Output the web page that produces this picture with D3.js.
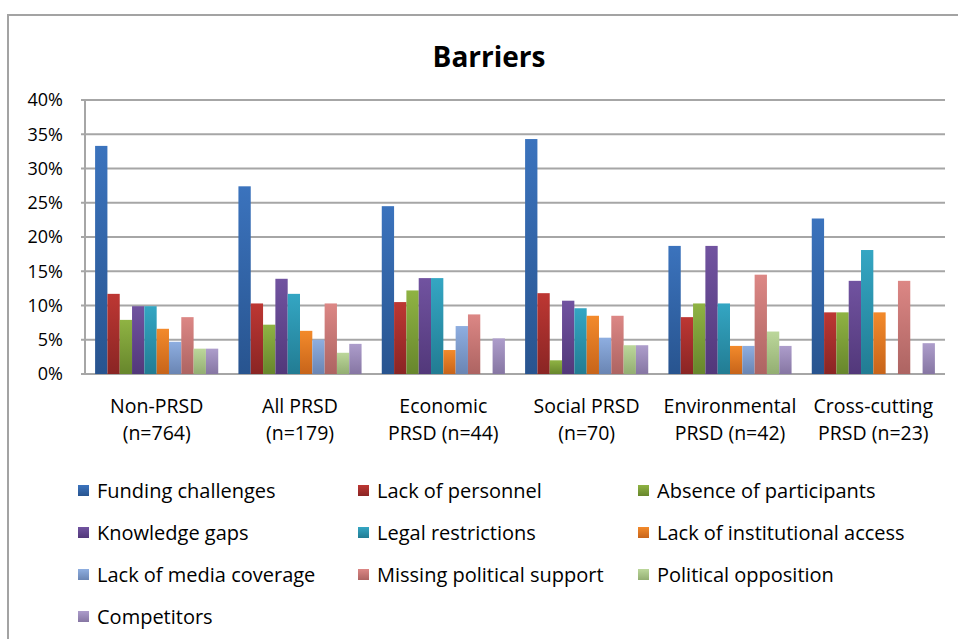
<!DOCTYPE html>
<html>
<head>
<meta charset="utf-8">
<script src="https://cdn.jsdelivr.net/npm/d3@7"></script>
<style>
  body { margin: 0; background: #fff; }
  svg { display: block; }
</style>
</head>
<body>
<div id="canvas"></div>
<script>
// categories (two label lines each)
let categories = ["Non-PRSD", "All PRSD", "Economic PRSD", "Social PRSD", "Environmental PRSD", "Cross-cutting PRSD"]
let catLines = [
    ["Non-PRSD", "(n=764)"],
    ["All PRSD", "(n=179)"],
    ["Economic", "PRSD (n=44)"],
    ["Social PRSD", "(n=70)"],
    ["Environmental", "PRSD (n=42)"],
    ["Cross-cutting", "PRSD (n=23)"]
]

let series = ["Funding challenges", "Lack of personnel", "Absence of participants",
    "Knowledge gaps", "Legal restrictions", "Lack of institutional access",
    "Lack of media coverage", "Missing political support", "Political opposition",
    "Competitors"]

// values in %, one array per series, in category order
let funding       = [33.3, 27.4, 24.5, 34.3, 18.7, 22.7]
let personnel     = [11.7, 10.3, 10.5, 11.8, 8.3, 9.0]
let absence       = [7.9, 7.2, 12.2, 2.0, 10.3, 9.0]
let knowledge     = [9.9, 13.9, 14.0, 10.7, 18.7, 13.6]
let legal         = [9.9, 11.7, 14.0, 9.6, 10.3, 18.1]
let institutional = [6.6, 6.3, 3.5, 8.5, 4.1, 9.0]
let media         = [4.7, 5.0, 7.0, 5.3, 4.1, 0]
let missingPol    = [8.3, 10.3, 8.7, 8.5, 14.5, 13.6]
let opposition    = [3.7, 3.1, 0, 4.2, 6.2, 0]
let competitors   = [3.7, 4.4, 5.2, 4.2, 4.1, 4.5]

let values = [funding, personnel, absence, knowledge, legal, institutional,
    media, missingPol, opposition, competitors]

let yTicks = [0, 5, 10, 15, 20, 25, 30, 35, 40]

// top / bottom colours of the bar gradients
let colorsTop = ["#3b73bd", "#bd3733", "#8fb343", "#7153a0", "#34a6c3", "#f38a2b",
    "#8eaee0", "#dc8785", "#bcd79b", "#ad9dcb"]
let colorsBottom = ["#28548f", "#8a2524", "#67862c", "#52387a", "#227c93", "#c7641a",
    "#6a85b3", "#ad6462", "#93ae72", "#8676a3"]

let width = 958
let height = 639

let svg = d3.select("#canvas").append("svg")
    .attr("width", width)
    .attr("height", height)
    .attr("class", "canvas")

let defs = svg.append("defs")
series.forEach((s, i) => {
    let g = defs.append("linearGradient")
        .attr("id", "grad" + i)
        .attr("x1", 0).attr("y1", 0)
        .attr("x2", 0).attr("y2", 1)
    g.append("stop").attr("offset", "0%").attr("stop-color", colorsTop[i])
    g.append("stop").attr("offset", "100%").attr("stop-color", colorsBottom[i])
})

// outer frame
svg.append("rect")
    .attr("x", 8).attr("y", 15)
    .attr("width", 980).attr("height", 660)
    .attr("fill", "none")
    .attr("stroke", "#a3a3a3")
    .attr("stroke-width", 2)

// title
svg.append("text")
    .attr("x", 489).attr("y", 67)
    .attr("text-anchor", "middle")
    .attr("font-family", "'Open Sans', sans-serif")
    .attr("font-weight", "bold")
    .attr("font-size", 28)
    .attr("fill", "#000")
    .text("Barriers")

// scales
let plot = {left: 85, right: 945, top: 100, bottom: 374}

let y = d3.scaleLinear()
    .domain([0, 40])
    .range([plot.bottom, plot.top])

let x0 = d3.scaleBand()
    .domain(categories)
    .range([plot.left, plot.right])
    .padding(0)

let x1 = d3.scaleBand()
    .domain(series)
    .range([0, x0.bandwidth()])
    .paddingInner(0)
    .paddingOuter(0.82)

// gridlines
svg.append("g")
    .attr("class", "grid")
    .selectAll("line")
    .data(yTicks)
    .enter().append("line")
        .attr("x1", plot.left - 4)
        .attr("x2", plot.right)
        .attr("y1", d => y(d))
        .attr("y2", d => y(d))
        .attr("stroke", "#a6a6a6")
        .attr("stroke-width", 2)

// left axis line
svg.append("line")
    .attr("x1", plot.left).attr("x2", plot.left)
    .attr("y1", plot.top).attr("y2", plot.bottom)
    .attr("stroke", "#a6a6a6")
    .attr("stroke-width", 2)

// y labels
svg.append("g")
    .selectAll("text")
    .data(yTicks)
    .enter().append("text")
        .attr("x", 63)
        .attr("y", d => y(d))
        .attr("dy", "0.36em")
        .attr("text-anchor", "end")
        .attr("font-family", "'Open Sans', sans-serif")
        .attr("font-size", 18)
        .attr("fill", "#000")
        .text(d => d + "%")

// bars
let groups = svg.append("g")
    .attr("class", "bars")
    .selectAll("g")
    .data(categories)
    .enter().append("g")
        .attr("transform", d => "translate(" + x0(d) + ",0)")

groups.selectAll("rect")
    .data((c, ci) => series.map((s, si) => ({s: s, si: si, v: values[si][ci]})))
    .enter().append("rect")
        .filter(d => d.v > 0)
        .attr("x", d => x1(d.s))
        .attr("y", d => y(d.v))
        .attr("width", x1.bandwidth())
        .attr("height", d => y(0) - y(d.v))
        .attr("fill", d => "url(#grad" + d.si + ")")

// category labels
let catLabels = svg.append("g")
    .selectAll("text")
    .data(categories)
    .enter().append("text")
        .attr("text-anchor", "middle")
        .attr("font-family", "'Open Sans', sans-serif")
        .attr("font-size", 19.5)
        .attr("fill", "#000")

catLabels.each(function(d, i) {
    let t = d3.select(this)
    catLines[i].forEach((line, li) => {
        t.append("tspan")
            .attr("x", x0(d) + x0.bandwidth() / 2)
            .attr("y", 413 + li * 27)
            .text(line)
    })
})

// legend
let legend = svg.append("g")
    .attr("class", "legend")
    .selectAll("g")
    .data(series)
    .enter().append("g")
        .attr("transform", (d, i) => "translate(" + (78 + (i % 3) * 280) + "," + (491 + Math.floor(i / 3) * 42) + ")")

legend.append("rect")
    .attr("x", 0).attr("y", -6)
    .attr("width", 11).attr("height", 11)
    .attr("fill", (d, i) => "url(#grad" + i + ")")

legend.append("text")
    .attr("x", 19)
    .attr("dy", "0.35em")
    .attr("font-family", "'Open Sans', sans-serif")
    .attr("font-size", 20)
    .attr("fill", "#000")
    .text(d => d)
</script>
</body>
</html>
